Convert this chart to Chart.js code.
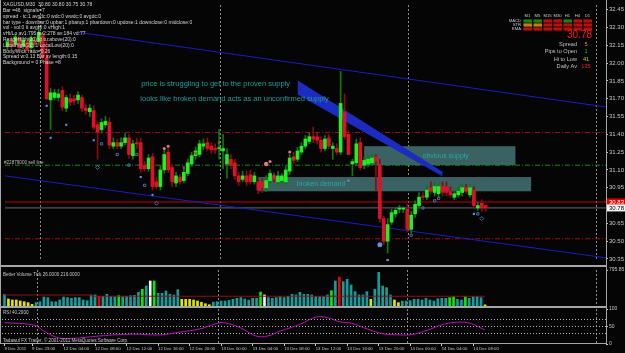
<!DOCTYPE html>
<html><head><meta charset="utf-8"><title>XAGUSD M30</title>
<script src="https://cdn.jsdelivr.net/npm/chart.js@4.4.1/dist/chart.umd.min.js"></script>
<style>
html,body{margin:0;padding:0;background:#050505;width:625px;height:353px;overflow:hidden;position:relative}
canvas{position:absolute;left:0}
.ln{position:absolute;background:#a6a6a6}
</style></head><body>
<canvas id="cMain" width="625" height="266" style="top:0"></canvas>
<canvas id="cVol" width="625" height="44" style="top:264px"></canvas>
<canvas id="cRsi" width="625" height="48" style="top:305px"></canvas>
<div class="ln" style="left:0;top:265px;width:606px;height:2px"></div>
<div class="ln" style="left:0;top:306px;width:606px;height:2px"></div>
<div class="ln" style="left:0;top:343px;width:606px;height:1px"></div>
<div class="ln" style="left:0;top:0;width:1px;height:344px"></div>
<div class="ln" style="left:606px;top:0;width:1px;height:344px"></div>
<script>
// ---------- DATA ----------
const X_MIN = -0.63, X_MAX = 152.7;
const open = [
32.14,32.19,32.16,32.21,32.14,32.18,32.13,32.19,32.18,32.23,
32.04,31.69,31.71,31.71,31.77,31.62,31.70,31.70,31.69,31.71,
31.62,31.59,31.60,31.48,31.44,31.48,31.50,31.30,31.33,31.30,
31.33,31.37,31.22,31.33,31.33,31.14,31.11,31.21,31.00,30.96,
31.10,31.25,31.12,30.99,31.04,31.01,31.07,31.15,31.22,31.23,
31.30,31.33,31.30,31.28,31.28,31.26,31.15,31.19,31.16,31.05,
31.02,31.05,31.06,31.00,31.00,31.00,30.95,31.01,31.05,31.00,
31.01,31.00,31.09,31.21,31.19,31.25,31.30,31.34,31.38,31.38,
31.35,31.28,31.37,31.28,31.28,31.25,31.59,31.40,31.15,31.16,
31.33,31.14,31.15,31.16,31.21,31.15,30.69,30.50,30.66,30.73,
30.77,30.77,30.77,30.60,30.73,30.80,30.88,30.87,30.95,30.91,
30.90,30.96,30.96,30.92,30.87,30.89,30.91,30.95,30.89,30.93,
30.78,30.82,30.80];
const high = [
32.20,32.22,32.24,32.23,32.22,32.20,32.23,32.22,32.31,32.26,
32.18,31.79,31.78,31.78,31.80,31.73,31.74,31.73,31.76,31.73,
31.65,31.65,31.64,31.51,31.53,31.55,31.54,31.37,31.36,31.37,
31.41,31.40,31.35,31.37,31.37,31.17,31.23,31.24,31.04,31.14,
31.27,31.28,31.15,31.08,31.06,31.11,31.19,31.25,31.29,31.35,
31.36,31.37,31.33,31.32,31.44,31.40,31.28,31.23,31.19,31.08,
31.09,31.09,31.10,31.08,31.04,31.03,31.05,31.10,31.08,31.09,
31.07,31.13,31.23,31.25,31.29,31.33,31.39,31.41,31.46,31.41,
31.38,31.39,31.40,31.33,31.32,31.93,31.74,31.43,31.19,31.36,
31.37,31.21,31.23,31.23,31.23,31.19,30.71,30.69,30.77,30.78,
30.80,30.79,30.81,30.75,30.84,30.91,30.91,30.96,31.00,31.00,
30.99,31.00,31.00,30.96,30.93,30.96,30.98,30.98,30.98,30.96,
30.83,30.85,30.80];
const low = [
32.11,32.12,32.14,32.11,32.12,32.10,32.10,32.14,32.15,32.03,
31.69,31.44,31.69,31.68,31.60,31.59,31.64,31.65,31.66,31.59,
31.57,31.55,31.44,31.19,31.41,31.46,31.28,31.28,31.28,31.28,
31.31,31.20,31.19,31.28,31.08,31.09,31.09,30.93,30.94,30.93,
31.07,31.08,30.96,30.96,30.98,30.99,31.05,31.13,31.19,31.21,
31.27,31.26,31.24,31.24,31.19,31.11,31.03,31.11,31.02,30.97,
31.00,30.97,30.98,30.98,30.90,30.91,30.92,30.99,31.00,30.98,
30.99,30.98,31.06,31.15,31.17,31.23,31.28,31.32,31.33,31.32,
31.25,31.26,31.28,31.19,31.23,31.23,31.36,31.23,31.05,31.14,
31.10,31.11,31.13,31.14,30.92,30.66,30.47,30.40,30.64,30.70,
30.74,30.74,30.58,30.57,30.70,30.78,30.85,30.85,30.90,30.88,
30.87,30.88,30.88,30.87,30.85,30.87,30.88,30.90,30.87,30.78,
30.76,30.75,30.75];
const close = [
32.18,32.14,32.22,32.13,32.19,32.11,32.21,32.16,32.26,32.05,
31.70,31.75,31.75,31.74,31.63,31.71,31.67,31.68,31.73,31.62,
31.60,31.62,31.46,31.42,31.50,31.51,31.31,31.33,31.30,31.33,
31.37,31.23,31.32,31.32,31.11,31.11,31.20,30.96,30.96,31.10,
31.23,31.10,31.00,31.05,31.00,31.08,31.16,31.22,31.26,31.32,
31.32,31.28,31.27,31.27,31.28,31.28,31.23,31.14,31.05,31.00,
31.05,31.00,31.00,31.05,30.93,30.95,31.01,31.07,31.02,31.05,
31.05,31.10,31.20,31.18,31.26,31.30,31.36,31.38,31.36,31.35,
31.28,31.36,31.30,31.30,31.25,31.66,31.38,31.23,31.17,31.32,
31.12,31.18,31.19,31.20,31.17,30.69,30.50,30.64,30.74,30.76,
30.78,30.77,30.60,30.72,30.81,30.87,30.87,30.93,30.92,30.96,
30.96,30.91,30.91,30.89,30.90,30.92,30.95,30.92,30.95,30.80,
30.80,30.78,30.78];

const volume = [
258,155,133,133,111,95,74,36,74,95,
199,185,95,95,133,199,185,170,185,185,
133,118,244,244,214,214,258,206,206,229,
206,214,229,236,303,368,442,553,553,280,
280,332,258,244,361,147,147,147,133,111,
82,52,29,86,95,111,111,126,147,170,
185,155,126,170,170,309,244,185,170,185,
206,185,214,258,244,303,258,258,244,206,
206,206,244,339,553,641,538,589,465,317,
244,244,317,147,368,745,442,406,244,133,
74,107,111,118,147,147,133,170,133,111,
161,170,170,185,206,147,133,206,170,206,
206,185,26];
const volType = (
'tyyyyyyytt'+'tttttttttt'+'ttttrttttg'+'tttttgtwgt'+'tttttyyyyy'+
'yyyttttttt'+'tttttgwttt'+'tttttttttt'+'tttgtrtttt'+'tttyttttty'+
'yttttttttt'+'tttggttgtt'+'tty').split('');
const volMAx = [0, 22, 45, 122];
const volMAy = [258, 243, 216, 216];

const rsiX = [0,7.5,10,13.6,17.1,24.2,32.4,39.5,44.5,49.6,53.7,55.7,59.8,63.8,66.9,70,75,79.1,82.1,85.2,88.2,92.3,96.3,100.4,103.4,107.5,110.5,113.6,117.6,120.7,122];
const rsiY = [61,54,37,18,16,23,28,26,34,43,58,61,47,23,23,37,56,77,75,63,59,42,29,26,27,40,53,61,61,47,40];
const rsiLevels = [70, 50, 30];

const priceTicks = [32.45,32.30,32.15,32.00,31.85,31.70,31.55,31.40,31.25,31.10,30.95,30.65,30.50,30.35];
const rsiTicks = [100,70,50,30,0];
const volTicks = [795.85];
const timeLabelIdx = [0,7,15,23,31,39,47,55,63,71,79,87,95,103,111,119];
const timeLabels = ['9 Dec 2011','9 Dec 23:00','12 Dec 04:00','12 Dec 08:00','12 Dec 12:00','12 Dec 16:00','12 Dec 20:00','13 Dec 00:00','13 Dec 04:00','13 Dec 08:00','13 Dec 12:00','13 Dec 16:00','13 Dec 20:00','14 Dec 00:00','14 Dec 04:00','14 Dec 08:00'];
const daySeparators = [8.2, 54.2, 102.2, 150.1];

const redLevels = [31.415, 30.52];
const greenLevel = 31.14;
const askPrice = 30.83, bidPrice = 30.78;
const chanUpperX = [17.9, X_MAX], chanUpperY = [32.26, 31.63];
const chanLowerX = [X_MIN, X_MAX], chanLowerY = [31.05, 30.36];
const bandX = [74.0, 111.0], bandTopY = [31.85, 31.08], bandBotY = [31.74, 31.05];

const boxX0 = [91.0, 64.1], boxX1 = [129.6, 133.6];
const boxTop = [31.30, 31.04], boxBot = [31.14, 30.92];
const boxLabels = ['obvious supply', 'broken demand'], boxLabelX = [111.8, 80.0];
const noteX = [34.1, 33.9], noteY = [31.825, 31.694];
const notes = ['price is struggling to get to the proven supply', 'looks like broken demand acts as an unconfirmed supply'];

const blueDotX = [10,11,15,22,34,37,87,119], blueDotY = [31.64,31.37,31.48,31.35,31.04,30.89,31.01,30.73];
const bigDotX = [95, 97], bigDotY = [30.47, 30.34];
const hollowX = [24,28,31,33,35,103,106,109,110,120], hollowY = [31.32,31.23,31.14,31.23,30.97,30.55,30.78,30.84,30.86,30.73];
const crossX = [23,38,121], crossY = [31.12,30.82,30.69];
const pinkX = [40,41,66,67,72], pinkY = [31.28,31.30,31.15,31.17,31.25];
const brownX = [45,48,54,68,73], brownY = [31.12,31.24,31.33,31.05,31.20];

const infoLines = [
 'XAGUSD,M30  30.80 30.80 30.75 30.78',
 'Bar =46  signals=7',
 'spread - tc:1 avgdc:0 wdc:0 wwdc:0 avgdc:0',
 'bar type - downbar:0 upbar:1 pbarup:1 pbardown:0 updose:1 downclose:0 midclose:0',
 'vol - vol:0 lt avgHi:0 vHigh:1',
 'vHi/Lo av1:795 av2:278 av:184 vd:77',
 'RangeHigh(20) lo tu:above(20):0',
 'LocalHigh(20):1 LocalLow(20):0',
 'Body/Wick ratio=0.26',
 'Spread w:0.13 Bar av length:0.15',
 'Background = 0 Phase =8'];
const tfNames = ['M1','M5','M15','M30','H1','H4','D1'];
const tfRows = ['MACD','STR','EMA'];
const tfState = [['g','g','r','r','g','r','r'],['o','o','r','r','r','r','r'],['r','r','r','r','r','r','r']];
const statNames = ['Spread','Pips to Open','Hi to Low','Daily Av'];
const statVals = ['5','1','41','135'];

// ---------- STYLE ----------
const FONT = '"Liberation Sans", Arial, sans-serif';
const TXT = '#c8c8c8';
const UP = '#22ee22', DN = '#e0102c', UPW = '#0d7a0d', DNW = '#8a0c0c';
const VCOL = {t:'#159c9c', y:'#e4e400', g:'#00ee00', r:'#ee0000', w:'#f2f2f2'};
const idx = open.map((_, i) => i);
const isUp = i => close[i] >= open[i];

function xLinear(display){ return {type:'linear', min:X_MIN, max:X_MAX, offset:false, display:display, grid:{display:false}, border:{display:false}}; }
function yRight(min, max, ticks, fmt, size){
  return {type:'linear', position:'right', min:min, max:max,
    afterFit(s){ s.width = 19; s.paddingTop = 0; s.paddingBottom = 0; },
    afterBuildTicks(s){ s.ticks = ticks.map(v => ({value:v})); },
    ticks:{color:TXT, font:{size:size, family:FONT}, padding:1, callback:fmt},
    grid:{display:true, drawOnChartArea:false, drawTicks:true, tickLength:2, color:TXT},
    border:{display:false}};
}
function hline(yv, color, dash, order){
  return {type:'line', data:[{x:X_MIN,y:yv},{x:X_MAX,y:yv}], borderColor:color, borderWidth:1, borderDash:dash, pointRadius:0, order:order};
}
function seg(xs, ys){ return xs.map((v,i)=>({x:v, y:ys[i]})); }
function daySep(chart){
  const {ctx, scales:{x}, chartArea:a} = chart;
  ctx.save(); ctx.strokeStyle = '#8a8a8a'; ctx.lineWidth = 1; ctx.setLineDash([2,2]);
  daySeparators.forEach(v => { const px = Math.round(x.getPixelForValue(v)) + 0.5;
    ctx.beginPath(); ctx.moveTo(px, a.top); ctx.lineTo(px, a.bottom); ctx.stroke(); });
  ctx.restore();
}
const common = {responsive:false, animation:false, devicePixelRatio:1, events:[],
  plugins:{legend:{display:false}, tooltip:{enabled:false}}};

// ---------- MAIN ----------
const mainOverlay = {
  id:'mainOverlay',
  beforeDatasetsDraw(chart){
    const {ctx, scales:{x, y}} = chart;
    daySep(chart);
    ctx.save();
    for (let k = 0; k < boxX0.length; k++){
      const x0 = x.getPixelForValue(boxX0[k]), x1 = x.getPixelForValue(boxX1[k]);
      const y0 = y.getPixelForValue(boxTop[k]), y1 = y.getPixelForValue(boxBot[k]);
      ctx.fillStyle = '#3a6262'; ctx.fillRect(x0, y0, x1 - x0, y1 - y0);
    }
    ctx.restore();
  },
  afterDatasetsDraw(chart){
    const {ctx, scales:{x, y}} = chart;
    ctx.save();
    ctx.textBaseline = 'middle';
    ctx.fillStyle = '#2aa8a8'; ctx.font = '7px ' + FONT; ctx.textAlign = 'center';
    for (let k = 0; k < boxLabels.length; k++){
      ctx.fillText(boxLabels[k], x.getPixelForValue(boxLabelX[k]), (y.getPixelForValue(boxTop[k]) + y.getPixelForValue(boxBot[k]))/2);
    }
    ctx.textAlign = 'left'; ctx.font = '7.5px ' + FONT; ctx.fillStyle = '#209c9c';
    notes.forEach((t, k) => ctx.fillText(t, x.getPixelForValue(noteX[k]), y.getPixelForValue(noteY[k])));
    ctx.fillStyle = '#d4d4d4'; ctx.font = '5px ' + FONT;
    infoLines.forEach((t, k) => ctx.fillText(t, 3, 4.8 + k * 5.8));
    ctx.fillStyle = '#bdbdbd'; ctx.font = '4.6px ' + FONT;
    ctx.fillText('#22879000 sell line', 4, y.getPixelForValue(greenLevel) - 2.5);
    const colX = [527.5, 537.5, 547.5, 557.5, 567.5, 577.5, 587.5], rowY = [21, 25, 29];
    ctx.font = '4.2px ' + FONT; ctx.fillStyle = '#c8c8c8'; ctx.textAlign = 'center';
    tfNames.forEach((t, k) => ctx.fillText(t, colX[k], 16));
    ctx.textAlign = 'right';
    tfRows.forEach((t, r) => ctx.fillText(t, 521, rowY[r]));
    const cc = {g:'#14a814', o:'#e8a000', r:'#e01414'};
    tfState.forEach((row, r) => row.forEach((s, k) => {
      ctx.fillStyle = cc[s]; ctx.fillRect(colX[k] - 4, rowY[r] - 1.5, 8.5, 3);
      ctx.fillStyle = '#300000'; ctx.fillRect(colX[k] - 4, rowY[r] - 0.2, 8.5, 0.4);
    }));
    ctx.fillStyle = '#ff1c1c'; ctx.font = '10px ' + FONT; ctx.textAlign = 'right';
    ctx.fillText('30.78', 592, 35.5);
    const sc = ['#d8a010', '#20c020', '#c8c800', '#e82020'];
    ctx.font = '5.6px ' + FONT;
    statNames.forEach((t, k) => {
      ctx.fillStyle = '#c0c0c0'; ctx.textAlign = 'right'; ctx.fillText(t, 577, 44 + k * 7.6);
      ctx.fillStyle = sc[k]; ctx.textAlign = 'center'; ctx.fillText(statVals[k], 586, 44 + k * 7.6);
    });
    ctx.restore();
  },
  afterDraw(chart){
    const {ctx, scales:{y}} = chart;
    ctx.save(); ctx.font = '6px ' + FONT; ctx.textBaseline = 'middle'; ctx.textAlign = 'left';
    const ya = y.getPixelForValue(askPrice), yb = y.getPixelForValue(bidPrice);
    ctx.fillStyle = '#e00000'; ctx.fillRect(607, ya - 3.5, 18, 7);
    ctx.fillStyle = '#ffffff'; ctx.fillText(askPrice.toFixed(2), 609, ya);
    ctx.fillStyle = '#f4f4f4'; ctx.fillRect(607, yb - 3.5, 18, 7);
    ctx.fillStyle = '#000000'; ctx.fillText(bidPrice.toFixed(2), 609, yb);
    ctx.restore();
  }
};

new Chart(document.getElementById('cMain'), {
  type:'bar',
  data:{datasets:[
    hline(redLevels[0], '#a01010', [5,2,1,2], 8),
    hline(redLevels[1], '#a01010', [5,2,1,2], 8),
    hline(greenLevel, '#1a8a1a', [5,2,1,2], 8),
    hline(askPrice, '#c00000', [], 8),
    hline(bidPrice, '#6a6a6a', [], 8),
    {type:'line', data:seg(chanUpperX, chanUpperY), borderColor:'#1c1cc0', borderWidth:1, pointRadius:0, order:7},
    {type:'line', data:seg(chanLowerX, chanLowerY), borderColor:'#1c1cc0', borderWidth:1, pointRadius:0, order:7},
    {type:'line', data:seg(bandX, bandTopY), borderColor:'#1c2cc0', borderWidth:1, pointRadius:0, fill:'+1', backgroundColor:'#1c2cc0', order:6},
    {type:'line', data:seg(bandX, bandBotY), borderColor:'#1c2cc0', borderWidth:1, pointRadius:0, order:6},
    {type:'bar', data:idx.map(i => ({x:i, y:[low[i], high[i]]})), barThickness:1, grouped:false,
      backgroundColor:c => isUp(c.dataIndex) ? UPW : DNW, order:3},
    {type:'bar', data:idx.map(i => ({x:i, y:[open[i], close[i]]})), barThickness:3, grouped:false, minBarLength:1,
      backgroundColor:c => isUp(c.dataIndex) ? UP : DN, order:2},
    {type:'line', showLine:false, data:seg(blueDotX, blueDotY), pointStyle:'rect', pointRadius:1.5, pointBackgroundColor:'#5c90e6', pointBorderWidth:0, order:0},
    {type:'line', showLine:false, data:seg(bigDotX, bigDotY), pointStyle:'circle', pointRadius:[2.5,1.5], pointBackgroundColor:'#5c90e6', pointBorderWidth:0, order:0},
    {type:'line', showLine:false, data:seg(hollowX, hollowY), pointStyle:'rect', pointRadius:1.6, pointBackgroundColor:'rgba(0,0,0,0)', pointBorderColor:'#4c6c9c', pointBorderWidth:1, order:0},
    {type:'line', showLine:false, data:seg(crossX, crossY), pointStyle:'rectRot', pointRadius:2, pointBackgroundColor:'rgba(0,0,0,0)', pointBorderColor:'#4c6c9c', pointBorderWidth:1, order:0},
    {type:'line', showLine:false, data:seg(pinkX, pinkY), pointStyle:'circle', pointRadius:[1.5,1.5,2.2,1.5,1.5], pointBackgroundColor:'#e07878', pointBorderWidth:0, order:0},
    {type:'line', showLine:false, data:seg(brownX, brownY), pointStyle:'rect', pointRadius:1.4, pointBackgroundColor:'#7a4a2a', pointBorderColor:'#a0603a', pointBorderWidth:0.5, order:0}
  ]},
  options:Object.assign({}, common, {
    layout:{padding:{left:2, top:2, right:0, bottom:1}},
    scales:{x:xLinear(false), y:yRight(30.333, 32.489, priceTicks, v => v.toFixed(2), 6)}
  }),
  plugins:[mainOverlay]
});

// ---------- VOLUME ----------
const volOverlay = {id:'volOverlay',
  beforeDatasetsDraw(chart){ daySep(chart); },
  afterDatasetsDraw(chart){ const ctx = chart.ctx; ctx.save(); ctx.font = '4.6px ' + FONT; ctx.fillStyle = '#c8c8c8';
    ctx.textBaseline = 'middle'; ctx.fillText('Better Volume Tick 26.0000 216.0000', 3, 11); ctx.restore(); }
};
new Chart(document.getElementById('cVol'), {
  type:'bar',
  data:{datasets:[
    {type:'line', data:seg(volMAx, volMAy), stepped:'after', borderColor:'#8e1212', borderWidth:1, pointRadius:0, order:0},
    {type:'bar', data:idx.map(i => ({x:i, y:volume[i]})), barThickness:2, grouped:false,
      backgroundColor:c => VCOL[volType[c.dataIndex]] || VCOL.t, order:1}
  ]},
  options:Object.assign({}, common, {
    layout:{padding:{left:2, top:6, right:0, bottom:2}},
    scales:{x:xLinear(false), y:yRight(0, 795.85, volTicks, v => v.toFixed(2), 5)}
  }),
  plugins:[volOverlay]
});

// ---------- RSI ----------
const rsiOverlay = {id:'rsiOverlay',
  beforeDatasetsDraw(chart){ daySep(chart); },
  afterDatasetsDraw(chart){ const ctx = chart.ctx; ctx.save(); ctx.font = '4.6px ' + FONT; ctx.fillStyle = '#c8c8c8';
    ctx.textBaseline = 'middle'; ctx.fillText('RSI 40.2000', 3, 8);
    ctx.fillText('Tadawul FX Trader, \u00a9 2001-2011 MetaQuotes Software Corp.', 3, 36); ctx.restore(); }
};
const rsiX_axis = Object.assign(xLinear(true), {
  afterFit(s){ s.height = 9; s.paddingLeft = 0; s.paddingRight = 0; },
  afterBuildTicks(s){ s.ticks = timeLabelIdx.map(v => ({value:v})); },
  ticks:{color:TXT, font:{size:4.3, family:FONT}, autoSkip:false, maxRotation:0, minRotation:0, align:'start', padding:0,
    callback:(v, i) => timeLabels[i]},
  grid:{display:true, drawOnChartArea:false, drawTicks:true, tickLength:2, color:TXT}
});
new Chart(document.getElementById('cRsi'), {
  type:'line',
  data:{datasets:[
    ...rsiLevels.map(v => hline(v, '#b4b4b4', [1,2], 2)),
    {type:'line', data:seg(rsiX, rsiY), borderColor:'#b414b4', borderWidth:1, pointRadius:0, tension:0.4, order:0}
  ]},
  options:Object.assign({}, common, {
    layout:{padding:{left:2, top:4, right:0, bottom:0}},
    scales:{x:rsiX_axis, y:yRight(0, 100, rsiTicks, v => String(v), 5)}
  }),
  plugins:[rsiOverlay]
});
</script>
</body></html>
